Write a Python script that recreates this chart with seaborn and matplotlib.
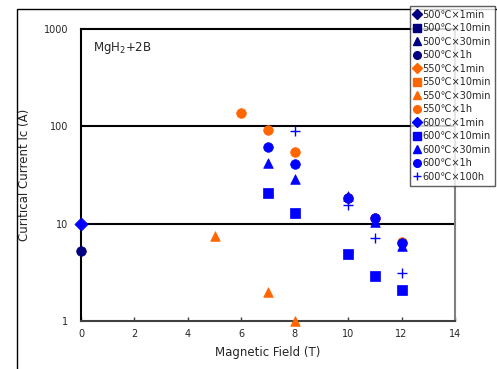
import matplotlib
matplotlib.use("Agg")
import matplotlib.pyplot as plt
import seaborn as sns
import pandas as pd
from matplotlib.lines import Line2D
from matplotlib.patches import Rectangle
from matplotlib.ticker import FixedLocator, NullLocator, FixedFormatter

# ---- data ----
series_labels = ["500℃×1min", "500℃×10min", "500℃×30min", "500℃×1h",
                 "550℃×1min", "550℃×10min", "550℃×30min", "550℃×1h",
                 "600℃×1min", "600℃×10min", "600℃×30min", "600℃×1h",
                 "600℃×100h"]
series_colors = ["#000080"] * 4 + ["#FF6600"] * 4 + ["#0000FF"] * 5
series_markers = ["D", "s", "^", "o", "D", "s", "^", "o", "D", "s", "^", "o", "+"]

field_500_1h = [0]
ic_500_1h = [5.2]
field_550_30min = [5, 7, 8]
ic_550_30min = [7.5, 2.0, 1.0]
field_550_1h = [6, 7, 8, 10, 11, 12]
ic_550_1h = [138, 92, 55, 18.5, 11.5, 6.5]
field_600_1min = [0]
ic_600_1min = [10]
field_600_10min = [7, 8, 10, 11, 12]
ic_600_10min = [20.8, 13, 4.9, 2.9, 2.08]
field_600_30min = [7, 8, 10, 11, 12]
ic_600_30min = [42, 29, 19.3, 10.5, 5.9]
field_600_1h = [7, 8, 10, 11, 12]
ic_600_1h = [61, 41, 18.2, 11.4, 6.4]
field_600_100h = [8, 10, 11, 12]
ic_600_100h = [90, 15.6, 7.1, 3.1]

xticks = [0, 2, 4, 6, 8, 10, 12, 14]
yticks = [1, 10, 100, 1000]
ytick_labels = ["1", "10", "100", "1000"]

series_data = {
    "500℃×1h": (field_500_1h, ic_500_1h),
    "550℃×30min": (field_550_30min, ic_550_30min),
    "550℃×1h": (field_550_1h, ic_550_1h),
    "600℃×1min": (field_600_1min, ic_600_1min),
    "600℃×10min": (field_600_10min, ic_600_10min),
    "600℃×30min": (field_600_30min, ic_600_30min),
    "600℃×1h": (field_600_1h, ic_600_1h),
    "600℃×100h": (field_600_100h, ic_600_100h),
}

sns.set_theme(style="white")
plt.rcParams["font.family"] = ["DejaVu Sans", "Noto Sans CJK JP"]
plt.rcParams["mathtext.default"] = "regular"

fig = plt.figure(figsize=(4.97, 3.69), dpi=100)
fig.patch.set_facecolor("white")
# outer frame
fig.patches.append(Rectangle((16.5 / 497, -0.05), 1.0, 1 - 9.5 / 369 + 0.05,
                             transform=fig.transFigure, fill=False,
                             edgecolor="black", linewidth=1.0, zorder=0))

ax = fig.add_axes([81 / 497, 1 - 321 / 369, (455 - 81) / 497, (321 - 29) / 369])
ax.set_yscale("log")
ax.set_xlim(0, 14)
ax.set_ylim(1, 1000)

for lab, col, mk in zip(series_labels, series_colors, series_markers):
    if lab not in series_data:
        continue
    xs, ys = series_data[lab]
    df = pd.DataFrame({"x": xs, "y": ys})
    if mk == "+":
        sns.scatterplot(data=df, x="x", y="y", ax=ax, color=col, marker="+",
                        s=55, linewidth=1.0, zorder=3, clip_on=False)
    else:
        size = 48 if mk in ("o", "s", "^") else 45
        sns.scatterplot(data=df, x="x", y="y", ax=ax, color=col, marker=mk,
                        s=size, edgecolor=col, linewidth=0.5, zorder=3,
                        clip_on=False)

for v in [10, 100]:
    ax.axhline(v, color="black", linewidth=1.5, zorder=1)

ax.spines["top"].set_color("black")
ax.spines["left"].set_color("black")
ax.spines["bottom"].set_color("#404040")
ax.spines["right"].set_color("#808080")
for s in ax.spines.values():
    s.set_linewidth(1.5)
    s.set_visible(True)

ax.xaxis.set_major_locator(FixedLocator(xticks))
ax.yaxis.set_major_locator(FixedLocator(yticks))
ax.yaxis.set_major_formatter(FixedFormatter(ytick_labels))
ax.yaxis.set_minor_locator(NullLocator())
ax.tick_params(axis="x", direction="in", length=3, width=1, color="#404040",
               labelsize=7, pad=6, bottom=True)
ax.tick_params(axis="y", length=0, labelsize=7, pad=9)

ax.set_xlabel("Magnetic Field (T)", fontsize=8.5, labelpad=5)
ax.set_ylabel("Curitical Current Ic (A)", fontsize=8.5, labelpad=9)
ax.text(12 / 374, 0.935, "MgH$_2$+2B", transform=ax.transAxes, fontsize=8.5,
        ha="left", va="center")

handles = []
for lab, col, mk in zip(series_labels, series_colors, series_markers):
    if mk == "+":
        h = Line2D([], [], linestyle="none", marker="+", color=col,
                   markersize=6, markeredgewidth=1.0, label=lab)
    else:
        ms = 5 if mk == "D" else 5.5
        h = Line2D([], [], linestyle="none", marker=mk, color=col,
                   markersize=ms, markeredgecolor=col, label=lab)
    handles.append(h)

leg = fig.legend(handles=handles, loc="upper left",
                 bbox_to_anchor=(410 / 497, 1 - 6 / 369), fontsize=7,
                 frameon=True, fancybox=False, shadow=False,
                 handlelength=0.7, handletextpad=0.2, labelspacing=0.36,
                 borderpad=0.4, borderaxespad=0)
leg.get_frame().set_edgecolor("#333333")
leg.get_frame().set_linewidth(1.0)

fig.savefig("out.png", dpi=100)
